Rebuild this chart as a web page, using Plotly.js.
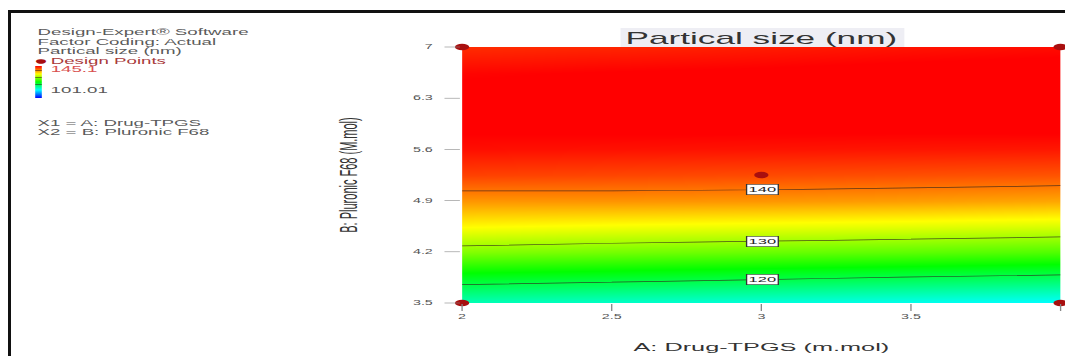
<!DOCTYPE html>
<html>
<head>
<meta charset="utf-8">
<script src="https://cdn.plot.ly/plotly-3.0.1.min.js"></script>
<style>
  html, body { margin: 0; padding: 0; background: #fff; overflow: hidden; width: 1065px; height: 356px; }
  /* the chart is laid out narrow and widened horizontally, like the exported report image */
  #chart { position: absolute; left: 0; top: 0; width: 484px; height: 356px;
           transform: scaleX(2.2004); transform-origin: 0 0; }
  #frame { position: absolute; left: 8px; top: 10px; width: 1060px; height: 350px;
           border-left: 3px solid #111; border-top: 3px solid #111; pointer-events: none; }
</style>
</head>
<body>
<div id="chart"></div>
<div id="frame"></div>
<script>
// Factor A (columns) and factor B (rows) of the response grid
const drugTPGS = [2, 2.5, 3, 3.5, 4];
const pluronicF68 = [3.5, 3.85, 4.2, 4.55, 4.9, 5.25, 5.6, 5.95, 6.3, 6.65, 7];

// Predicted particle size (nm), one row per Pluronic F68 level
const particleSize = [
  [115.1, 114.3, 113.5, 112.7, 111.9],
  [121.9, 121.3, 120.6, 119.9, 119.3],
  [128.7, 128.1, 127.6, 127.1, 126.5],
  [134.3, 133.8, 133.4, 133.0, 132.5],
  [138.6, 138.7, 138.6, 138.3, 137.9],
  [142.3, 142.1, 141.9, 141.7, 141.5],
  [144.5, 144.4, 144.3, 144.2, 144.1],
  [145.5, 145.6, 145.6, 145.6, 145.7],
  [145.7, 145.9, 146.0, 146.1, 146.3],
  [144.9, 145.2, 145.4, 145.7, 145.9],
  [143.2, 143.5, 143.9, 144.3, 144.6]
];

// Design points of the experiment
const designA = [2, 2, 4, 4, 3];
const designB = [3.5, 7, 3.5, 7, 5.25];

// Colour range of the response and the drawn contour levels
const responseRange = [101.01, 145.1];
const contourLevels = [120, 130, 140];

const xTicks = [2, 2.5, 3, 3.5, 4];
const yTicks = [3.5, 4.2, 4.9, 5.6, 6.3, 7];

const W = 484, H = 356;
const M = { l: 210, r: 2, t: 47, b: 53 };
const PW = W - M.l - M.r, PH = H - M.t - M.b;
const px2x = px => (px - M.l) / PW;       // layout pixel -> paper x
const px2y = py => (H - M.b - py) / PH;   // layout pixel -> paper y

const colorscale = [
  [0, '#0000ff'], [0.25, '#00ffff'], [0.5, '#00ff00'], [0.75, '#ffff00'], [1, '#ff0000']
];

// level position along the middle column, for the contour value tags
function levelPosition(level) {
  const c = Math.floor(drugTPGS.length / 2);
  for (let i = 0; i < pluronicF68.length - 1; i++) {
    const z0 = particleSize[i][c], z1 = particleSize[i + 1][c];
    if ((level - z0) * (level - z1) <= 0 && z0 !== z1) {
      return { x: drugTPGS[c], y: pluronicF68[i] + (pluronicF68[i + 1] - pluronicF68[i]) * (level - z0) / (z1 - z0) };
    }
  }
  return null;
}

const surface = {
  type: 'contour',
  x: drugTPGS, y: pluronicF68, z: particleSize,
  zmin: responseRange[0], zmax: responseRange[1],
  colorscale: colorscale,
  zsmooth: 'best',
  contours: {
    coloring: 'heatmap',
    start: contourLevels[0], end: contourLevels[contourLevels.length - 1],
    size: contourLevels[1] - contourLevels[0],
    showlines: true, showlabels: false
  },
  line: { color: 'rgba(50,35,30,0.8)', width: 0.7, smoothing: 1 },
  hoverinfo: 'skip',
  showscale: true,
  colorbar: {
    xref: 'paper', yref: 'paper',
    x: px2x(16), xanchor: 'left', y: px2y(66), yanchor: 'top',
    thickness: 3.2, thicknessmode: 'pixels', len: 32, lenmode: 'pixels',
    xpad: 0, ypad: 0, outlinewidth: 0, ticks: '', showticklabels: false
  }
};

const points = {
  type: 'scatter', mode: 'markers',
  x: designA, y: designB,
  marker: { color: '#a80f0f', size: 6.5 },
  cliponaxis: false, hoverinfo: 'skip', showlegend: false
};

const txtFont = { family: 'Liberation Sans, Arial, sans-serif', size: 8.5, color: '#5a5a5a' };
const legendLines = [
  { t: 'Design-Expert® Software', y: 32.3 },
  { t: 'Factor Coding: Actual', y: 41.7 },
  { t: 'Partical size (nm)', y: 51 },
  { t: 'Design Points', y: 60.5, x: 21, color: '#a83a3a' },
  { t: String(responseRange[1]), y: 69, x: 21, color: '#d85050' },
  { t: String(responseRange[0]), y: 89.5, x: 21, color: '#5a5a5a' },
  { t: 'X1 = A: Drug-TPGS', y: 122.7 },
  { t: 'X2 = B: Pluronic F68', y: 132 }
];

const annotations = legendLines.map(l => ({
  xref: 'paper', yref: 'paper', x: px2x(l.x !== undefined ? l.x : 15), y: px2y(l.y),
  xanchor: 'left', yanchor: 'middle', showarrow: false, text: l.t,
  font: Object.assign({}, txtFont, l.color ? { color: l.color } : {})
}));

annotations.push({
  xref: 'paper', yref: 'paper', x: px2x(18), y: px2y(60.5),
  xanchor: 'center', yanchor: 'middle', showarrow: false, text: '●',
  font: { family: 'DejaVu Sans, sans-serif', size: 6, color: '#a80f0f' }
});

contourLevels.forEach(level => {
  const p = levelPosition(level);
  if (!p) return;
  annotations.push({
    x: p.x, y: p.y, xref: 'x', yref: 'y', showarrow: false, text: String(level),
    font: { family: 'Liberation Sans, Arial, sans-serif', size: 7.5, color: '#222' },
    bgcolor: '#ffffff', bordercolor: '#333', borderwidth: 0.6, borderpad: 0.6
  });
});

const layout = {
  width: W, height: H,
  margin: M,
  paper_bgcolor: '#ffffff', plot_bgcolor: '#ffffff',
  showlegend: false,
  title: {
    text: 'Partical size (nm)',
    font: { family: 'Liberation Sans, Arial, sans-serif', size: 16, color: '#333' },
    x: 0.5, xref: 'paper', xanchor: 'center',
    y: 1 - 38 / H, yref: 'container', yanchor: 'middle'
  },
  shapes: [{
    type: 'rect', xref: 'paper', yref: 'paper', layer: 'below',
    x0: px2x(282), x1: px2x(411), y0: px2y(47), y1: px2y(28),
    fillcolor: '#eeeef4', line: { width: 0 }
  }],
  xaxis: {
    range: [drugTPGS[0], drugTPGS[drugTPGS.length - 1]],
    tickvals: xTicks, ticktext: xTicks.map(String),
    ticks: 'outside', ticklen: 7, tickwidth: 0.6, tickcolor: '#888',
    tickfont: { family: 'Liberation Sans, Arial, sans-serif', size: 6.5, color: '#555' },
    showgrid: false, zeroline: false, showline: false,
    title: { text: 'A: Drug-TPGS (m.mol)', standoff: 24,
             font: { family: 'Liberation Sans, Arial, sans-serif', size: 11.5, color: '#333' } }
  },
  yaxis: {
    range: [pluronicF68[0], pluronicF68[pluronicF68.length - 1]],
    tickvals: yTicks, ticktext: yTicks.map(String),
    ticks: 'outside', ticklen: 7, tickwidth: 0.6, tickcolor: '#888', ticklabelstandoff: 4,
    tickfont: { family: 'Liberation Sans, Arial, sans-serif', size: 6.5, color: '#555' },
    showgrid: false, zeroline: false, showline: false,
    title: { text: 'B: Pluronic F68 (M.mol)', standoff: 22,
             font: { family: 'Liberation Sans, Arial, sans-serif', size: 11, color: '#333' } }
  },
  annotations: annotations
};

Plotly.newPlot('chart', [surface, points], layout, { staticPlot: true, displayModeBar: false });
</script>
</body>
</html>
